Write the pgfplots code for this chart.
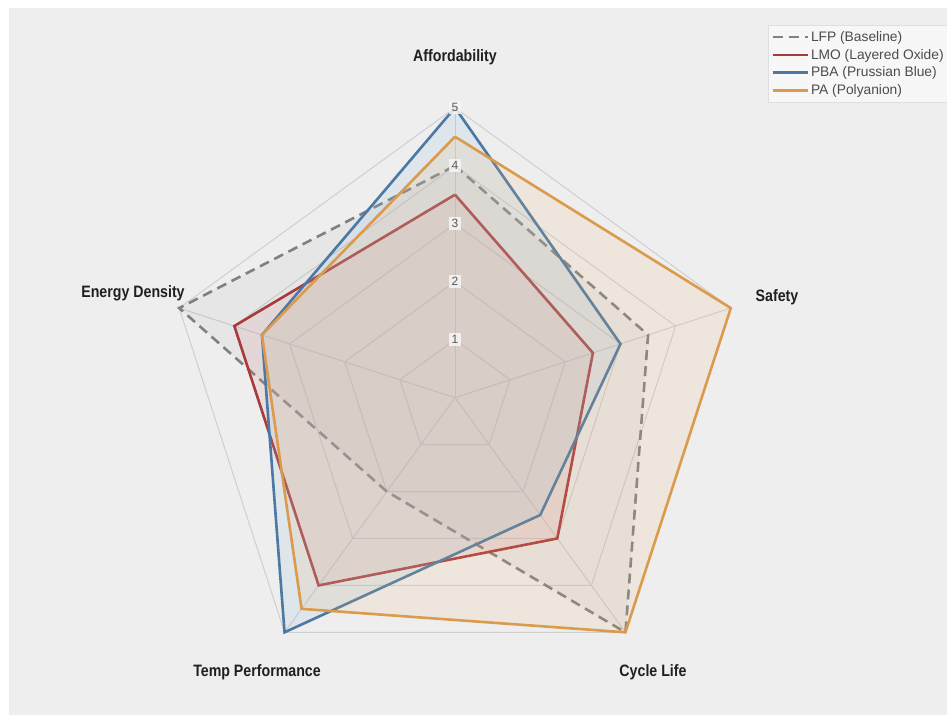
\documentclass[border=0pt]{standalone}
\usepackage{pgfplots}
\pgfplotsset{compat=1.18}
\usepgfplotslibrary{polar}
\usepackage{fontspec}
\setmainfont{Liberation Sans}
\newfontfamily\condfont{Liberation Sans}[FakeStretch=0.86]
\definecolor{bg}{HTML}{EEEEEE}
\definecolor{gridc}{HTML}{CFCFCF}
\definecolor{lfp}{HTML}{808080}
\definecolor{lmo}{HTML}{A83A3B}
\definecolor{pba}{HTML}{4B79A3}
\definecolor{pa}{HTML}{DB9A4C}
\definecolor{lmofill}{HTML}{D88A8A}
\definecolor{pbafill}{HTML}{8DB9E0}
\definecolor{pafill}{HTML}{F2B878}
\begin{document}
\begin{tikzpicture}[x=1pt,y=1pt]
\path[use as bounding box] (0,0) rectangle (947,715);
\clip (0,0) rectangle (947,715);
\fill[white] (0,0) rectangle (947,715);
\fill[bg] (9,0) rectangle (947,707);
\begin{polaraxis}[
  at={(455pt,317.3pt)}, anchor=center,
  scale only axis, width=580pt, height=580pt,
  ymin=0, ymax=5, xmin=0, xmax=360,
  hide axis, clip=false,
  legend style={at={(1.04,1.1426)}, anchor=north west, draw=gray!25, fill=white!97!black,
    font=\fontsize{13.8}{15}\selectfont, text=black!70, row sep=2.4pt,
    inner xsep=3pt, inner ysep=4pt, cells={anchor=west}},
  legend image code/.code={\draw[#1, fill=none] (0pt,0pt) -- (31pt,0pt);\path (0pt,0pt) -- (35pt,0pt);},
]
% grid pentagons
\addplot[gridc, line width=1pt, forget plot] coordinates {(90,1)(18,1)(-54,1)(234,1)(162,1)(90,1)};
\addplot[gridc, line width=1pt, forget plot] coordinates {(90,2)(18,2)(-54,2)(234,2)(162,2)(90,2)};
\addplot[gridc, line width=1pt, forget plot] coordinates {(90,3)(18,3)(-54,3)(234,3)(162,3)(90,3)};
\addplot[gridc, line width=1pt, forget plot] coordinates {(90,4)(18,4)(-54,4)(234,4)(162,4)(90,4)};
\addplot[gridc, line width=1pt, forget plot] coordinates {(90,5)(18,5)(-54,5)(234,5)(162,5)(90,5)};
% spokes
\addplot[gridc, line width=1pt, forget plot] coordinates {(90,0)(90,5)};
\addplot[gridc, line width=1pt, forget plot] coordinates {(18,0)(18,5)};
\addplot[gridc, line width=1pt, forget plot] coordinates {(-54,0)(-54,5)};
\addplot[gridc, line width=1pt, forget plot] coordinates {(234,0)(234,5)};
\addplot[gridc, line width=1pt, forget plot] coordinates {(162,0)(162,5)};
% series: Affordability, Safety, Cycle Life, Temp Performance, Energy Density
\addplot[lfp, line width=2.6pt, dash pattern=on 10pt off 6pt, fill=gray, fill opacity=0.07]
  coordinates {(90,4)(18,3.5)(-54,5)(234,2)(162,5)(90,4)};
\addlegendentry{LFP (Baseline)}
\addplot[lmo, line width=2.6pt, fill=lmofill, fill opacity=0.17]
  coordinates {(90,3.5)(18,2.5)(-54,3)(234,4)(162,4)(90,3.5)};
\addlegendentry{LMO (Layered Oxide)}
\addplot[pba, line width=2.6pt, fill=pbafill, fill opacity=0.16]
  coordinates {(90,5)(18,3)(-54,2.5)(234,5)(162,3.5)(90,5)};
\addlegendentry{PBA (Prussian Blue)}
\addplot[pa, line width=2.6pt, fill=pafill, fill opacity=0.15]
  coordinates {(90,4.5)(18,5)(-54,5)(234,4.5)(162,3.5)(90,4.5)};
\addlegendentry{PA (Polyanion)}
% radial tick labels
\foreach \r in {1,2,3,4,5} {
  \edef\tmp{\noexpand\node[fill=bg!50!white, fill opacity=0.85, text opacity=1, text=black!65, inner sep=2.5pt, font=\noexpand\fontsize{12}{12}\noexpand\selectfont] at (axis cs:90,\r) {\r};}
  \tmp
}
\end{polaraxis}
\begin{scope}[every node/.style={font=\condfont\bfseries\fontsize{16.5}{18}\selectfont, text=black!88}]
\node at (455,658) {Affordability};
\node at (777,418) {Safety};
\node at (133,422) {Energy Density};
\node at (257,43) {Temp Performance};
\node at (653,43) {Cycle Life};
\end{scope}
\end{tikzpicture}
\end{document}
